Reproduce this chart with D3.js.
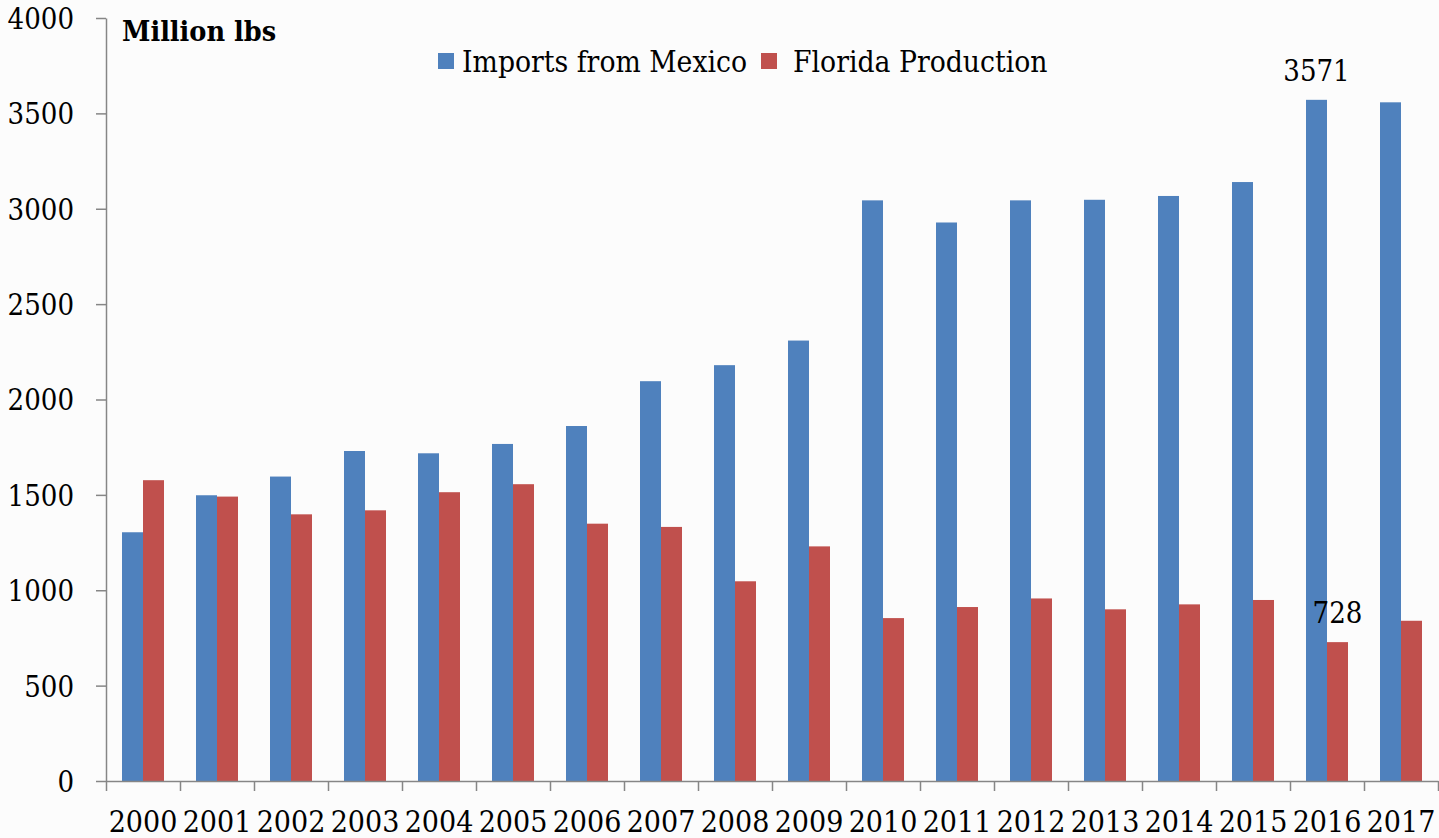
<!DOCTYPE html>
<html>
<head>
<meta charset="utf-8">
<script src="https://cdn.jsdelivr.net/npm/d3@7/dist/d3.min.js"></script>
<style>
  html, body { margin: 0; padding: 0; background: #fcfcfc; }
  svg { display: block; }
  text { font-family: 'DejaVu Serif Condensed', 'DejaVu Serif', serif; font-stretch: condensed; fill: #000; }
</style>
</head>
<body>
<svg id="chart" width="1439" height="838"></svg>
<script>
const years = ['2000','2001','2002','2003','2004','2005','2006','2007','2008','2009','2010','2011','2012','2013','2014','2015','2016','2017'];
const importsFromMexico = [1304,1498,1596,1730,1718,1767,1861,2096,2180,2309,3044,2928,3044,3047,3067,3140,3571,3558];
const floridaProduction = [1577,1491,1398,1419,1514,1556,1349,1332,1047,1230,854,912,957,900,926,949,728,840];
const seriesNames = ['Imports from Mexico','Florida Production'];
const seriesColors = ['#4F81BD','#C0504D'];
const yTicks = [0,500,1000,1500,2000,2500,3000,3500,4000];
const unitLabel = 'Million lbs';
const labelledPoints = [{year:'2016', series:0}, {year:'2016', series:1}];

(function () {
const seriesValues = [importsFromMexico, floridaProduction];
const svg = d3.select('#chart');
svg.append('rect').attr('width',1439).attr('height',838).attr('fill','#fcfcfc');

const pLeft = 106, pRight = 1438, pTop = 18, pBottom = 781;
const x = d3.scaleBand().domain(years).range([pLeft, pRight]).padding(0);
const xInner = d3.scaleBand().domain([0,1]).range([16, x.bandwidth() - 16]).padding(0);
const y = d3.scaleLinear().domain([0, 4000]).range([pBottom, pTop]);

// bars
const groups = svg.append('g').selectAll('g').data(years).join('g')
  .attr('transform', d => `translate(${x(d)},0)`);
groups.selectAll('rect').data((d,i) => seriesValues.map((s,k) => ({k, v: s[i]})))
  .join('rect')
  .attr('x', d => xInner(d.k))
  .attr('width', xInner.bandwidth())
  .attr('y', d => y(d.v))
  .attr('height', d => y(0) - y(d.v))
  .attr('fill', d => seriesColors[d.k]);

const axisColor = '#868686';
// y axis
const yAxis = svg.append('g').attr('transform', `translate(${pLeft},0)`)
  .call(d3.axisLeft(y).tickValues(yTicks).tickSize(10).tickSizeOuter(0).tickPadding(22).tickFormat(d3.format('d')));
yAxis.selectAll('path, line').attr('stroke', axisColor).attr('stroke-width', 1.5);
yAxis.selectAll('text').style('font-size','29px').attr('dy','0.36em');

// x axis: boundary ticks
const xEdge = d3.scaleLinear().domain([0, years.length]).range([pLeft, pRight]);
const xTicks = svg.append('g').attr('transform', `translate(0,${pBottom})`)
  .call(d3.axisBottom(xEdge).tickValues(d3.range(years.length + 1)).tickSize(10).tickSizeOuter(0).tickFormat(''));
xTicks.selectAll('path, line').attr('stroke', axisColor).attr('stroke-width', 1.5);

// x labels
const xLabels = svg.append('g').attr('transform', `translate(0,${pBottom})`)
  .call(d3.axisBottom(x).tickSize(0).tickSizeOuter(0));
xLabels.select('path').remove();
xLabels.selectAll('text').attr('y', 51).attr('dy', null)
  .style('font-size','30px');

// unit label
svg.append('text').attr('x', 122).attr('y', 41).text(unitLabel)
  .style('font-size','28.5px').style('font-weight','bold');

// legend
const legendX = [438, 761];
const legend = svg.append('g').selectAll('g').data(seriesNames).join('g')
  .attr('transform', (d,i) => `translate(${legendX[i]},53)`);
legend.append('rect').attr('width',16).attr('height',16).attr('fill', (d,i) => seriesColors[i]);
legend.append('text').attr('x', (d,i) => i === 0 ? 24 : 32).attr('y', 19).text(d => d)
  .style('font-size','29.7px');

// value labels
svg.append('g').selectAll('text').data(labelledPoints).join('text')
  .attr('x', d => x(d.year) + xInner(d.series) + xInner.bandwidth()/2)
  .attr('y', d => y(seriesValues[d.series][years.indexOf(d.year)]) - 19)
  .attr('text-anchor','middle')
  .style('font-size','29px')
  .text(d => seriesValues[d.series][years.indexOf(d.year)]);
})();
</script>
</body>
</html>
